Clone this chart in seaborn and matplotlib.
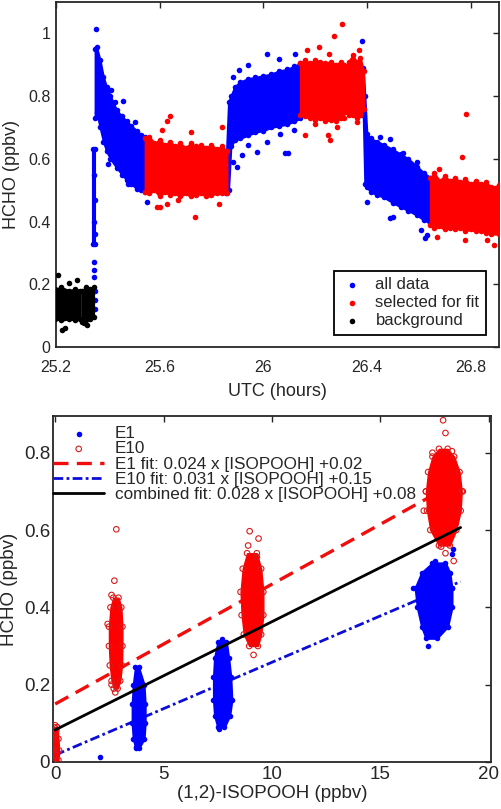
import numpy as np
import pandas as pd
import matplotlib
matplotlib.use("Agg")
import matplotlib.pyplot as plt
import seaborn as sns

# ---------------- top panel data ----------------
# dense cores: time knots with lower/upper envelope of the point cloud
black1_t = [25.196, 25.22, 25.25, 25.275, 25.293]
black1_lo = [0.09, 0.085, 0.09, 0.085, 0.09]
black1_hi = [0.185, 0.19, 0.18, 0.185, 0.18]
black2_t = [25.300, 25.315, 25.33, 25.345]
black2_lo = [0.08, 0.085, 0.09, 0.095]
black2_hi = [0.18, 0.19, 0.185, 0.19]

spike_t = [25.343, 25.352]
spike_lo = [0.33, 0.33]
spike_hi = [0.63, 0.63]

blue1_t = [25.351, 25.357, 25.37, 25.383, 25.395, 25.41, 25.434, 25.455, 25.473, 25.49, 25.512, 25.53, 25.544]
blue1_lo = [0.73, 0.75, 0.70, 0.655, 0.625, 0.60, 0.572, 0.55, 0.532, 0.52, 0.505, 0.50, 0.495]
blue1_hi = [0.95, 0.955, 0.915, 0.86, 0.83, 0.80, 0.755, 0.735, 0.72, 0.705, 0.69, 0.675, 0.67]

red1_t = [25.544, 25.56, 25.58, 25.60, 25.62, 25.64, 25.66, 25.68, 25.70, 25.72, 25.74, 25.76, 25.78, 25.80, 25.82, 25.84, 25.86]
red1_lo = [0.495, 0.49, 0.50, 0.48, 0.495, 0.485, 0.49, 0.48, 0.49, 0.48, 0.485, 0.49, 0.48, 0.485, 0.49, 0.49, 0.49]
red1_hi = [0.665, 0.67, 0.65, 0.66, 0.645, 0.655, 0.64, 0.65, 0.635, 0.65, 0.64, 0.645, 0.635, 0.645, 0.63, 0.64, 0.625]

blue2_t = [25.858, 25.866, 25.875, 25.89, 25.91, 25.94, 25.97, 26.0, 26.03, 26.06, 26.09, 26.12, 26.143]
blue2_lo = [0.49, 0.50, 0.64, 0.66, 0.665, 0.675, 0.685, 0.69, 0.70, 0.705, 0.71, 0.72, 0.73]
blue2_hi = [0.62, 0.78, 0.80, 0.83, 0.845, 0.855, 0.86, 0.865, 0.87, 0.88, 0.885, 0.895, 0.905]

red2_t = [26.143, 26.16, 26.18, 26.20, 26.22, 26.24, 26.26, 26.28, 26.30, 26.31]
red2_lo = [0.74, 0.735, 0.73, 0.725, 0.73, 0.72, 0.725, 0.72, 0.73, 0.73]
red2_hi = [0.905, 0.915, 0.905, 0.915, 0.91, 0.905, 0.91, 0.90, 0.91, 0.90]

red3_t = [26.317, 26.33, 26.345, 26.36, 26.375, 26.387]
red3_lo = [0.75, 0.74, 0.74, 0.73, 0.74, 0.76]
red3_hi = [0.89, 0.91, 0.93, 0.91, 0.92, 0.88]

blue3_t = [26.386, 26.392, 26.40, 26.414, 26.44, 26.465, 26.50, 26.53, 26.56, 26.594, 26.62, 26.645]
blue3_lo = [0.74, 0.52, 0.51, 0.495, 0.485, 0.478, 0.46, 0.447, 0.435, 0.42, 0.405, 0.395]
blue3_hi = [0.89, 0.80, 0.68, 0.665, 0.655, 0.645, 0.63, 0.615, 0.60, 0.575, 0.555, 0.54]

red4_t = [26.645, 26.66, 26.68, 26.70, 26.72, 26.74, 26.76, 26.78, 26.80, 26.82, 26.84, 26.86, 26.88, 26.91]
red4_lo = [0.39, 0.38, 0.385, 0.375, 0.38, 0.375, 0.38, 0.37, 0.375, 0.37, 0.37, 0.365, 0.36, 0.36]
red4_hi = [0.54, 0.555, 0.53, 0.545, 0.53, 0.54, 0.525, 0.535, 0.52, 0.53, 0.52, 0.525, 0.51, 0.515]

# isolated points
blue_pts_t = [25.345, 25.346, 25.347, 25.35, 25.35, 25.35, 25.356, 25.413, 25.427, 25.46, 25.505, 25.40,
              25.479, 25.55, 25.918, 25.976, 26.085, 26.094, 25.898, 25.885, 25.943, 26.014, 26.066,
              26.117, 26.014, 26.06, 26.124, 25.943, 25.905, 25.885, 26.381, 26.401, 26.49, 26.50,
              26.607, 26.626, 26.632, 26.49, 26.45, 26.594, 26.54, 25.347, 25.349, 25.346, 25.35]
blue_pts_v = [0.245, 0.224, 0.27, 0.12, 0.15, 0.18, 1.015, 0.818, 0.781, 0.784, 0.718, 0.585,
              0.521, 0.463, 0.611, 0.622, 0.619, 0.617, 0.574, 0.59, 0.643, 0.654, 0.68,
              0.691, 0.935, 0.919, 0.935, 0.898, 0.882, 0.86, 0.976, 0.463, 0.41, 0.415,
              0.373, 0.346, 0.357, 0.664, 0.67, 0.589, 0.617, 0.40, 0.47, 0.55, 0.36]
red_pts_t = [25.641, 25.63, 25.61, 25.59, 25.63, 25.735, 25.67, 25.84, 25.72, 25.83, 25.60, 26.304,
             26.272, 26.214, 26.169, 26.252, 26.162, 26.259, 26.25, 26.2, 26.285, 26.37, 26.36,
             26.781, 26.768, 26.671, 26.78, 26.864, 26.89, 26.68]
red_pts_v = [0.736, 0.72, 0.691, 0.447, 0.457, 0.413, 0.468, 0.70, 0.686, 0.455, 0.447, 1.029,
             0.993, 0.956, 0.946, 0.935, 0.675, 0.659, 0.675, 0.711, 0.70, 0.946, 0.718,
             0.742, 0.606, 0.351, 0.34, 0.34, 0.325, 0.568]
black_pts_t = [25.209, 25.235, 25.225, 25.282, 25.25, 25.31, 25.32]
black_pts_v = [0.229, 0.059, 0.055, 0.213, 0.205, 0.075, 0.07]

top_xticks = [25.2, 25.6, 26.0, 26.4, 26.8]
top_xticklabels = ["25.2", "25.6", "26", "26.4", "26.8"]
top_yticks = [0, 0.2, 0.4, 0.6, 0.8, 1.0]
top_yticklabels = ["0", "0.2", "0.4", "0.6", "0.8", "1"]

# ---------------- bottom panel data ----------------
# dense clusters: HCHO levels with left/right extent of the cloud
e10a_y = [0.19, 0.21, 0.25, 0.30, 0.35, 0.40, 0.425]
e10a_xl = [2.7, 2.6, 2.52, 2.48, 2.48, 2.55, 2.68]
e10a_xr = [2.88, 3.0, 3.08, 3.1, 3.1, 3.05, 2.92]
e1a_y = [0.035, 0.06, 0.10, 0.15, 0.20, 0.245]
e1a_xl = [3.72, 3.6, 3.55, 3.55, 3.6, 3.7]
e1a_xr = [3.85, 4.1, 4.15, 4.15, 4.1, 3.85]
e1b_y = [0.09, 0.12, 0.16, 0.22, 0.27, 0.31]
e1b_xl = [7.5, 7.35, 7.3, 7.3, 7.35, 7.5]
e1b_xr = [7.8, 8.05, 8.15, 8.1, 8.0, 7.9]
e10b_y = [0.30, 0.33, 0.38, 0.44, 0.50, 0.54]
e10b_xl = [8.95, 8.7, 8.6, 8.55, 8.65, 8.85]
e10b_xr = [9.35, 9.5, 9.6, 9.6, 9.5, 9.3]
e1c_y = [0.32, 0.35, 0.40, 0.45, 0.49, 0.515]
e1c_xl = [17.1, 16.9, 16.7, 16.6, 16.9, 17.4]
e1c_xr = [17.6, 18.1, 18.3, 18.3, 18.2, 18.0]
e10c_y = [0.56, 0.60, 0.65, 0.70, 0.75, 0.79, 0.81]
e10c_xl = [17.7, 17.3, 17.15, 17.1, 17.2, 17.4, 17.7]
e10c_xr = [18.2, 18.5, 18.7, 18.75, 18.65, 18.4, 18.1]
e10z_y = [0.005, 0.03, 0.06, 0.09]
e10z_xl = [-0.1, -0.1, -0.1, -0.05]
e10z_xr = [0.15, 0.18, 0.15, 0.1]

e1_pts_x = [2.08, 3.72, 7.54, 7.7, 17.2, 18.3, 18.35, 17.5, 0.0, 0.05, 0.1, 16.5, 18.3]
e1_pts_y = [0.013, 0.04, 0.086, 0.318, 0.299, 0.537, 0.55, 0.52, 0.06, 0.075, 0.02, 0.45, 0.45]
e10_pts_x = [2.82, 2.73, 2.77, 2.6, 2.6, 2.42, 8.97, 9.38, 9.15, 8.9, 9.3, 17.89, 18.0, 18.3,
             18.38, 18.0, 17.8, 17.4, 17.1, 18.8, 0.0, 0.05, 17.0]
e10_pts_y = [0.602, 0.469, 0.18, 0.2, 0.432, 0.357, 0.597, 0.578, 0.277, 0.56, 0.53, 0.884, 0.851, 0.804,
             0.52, 0.54, 0.557, 0.80, 0.70, 0.70, 0.095, 0.08, 0.65]

fit_x = [0.0, 18.7]
fit_e1_slope, fit_e1_icpt = 0.031, 0.15      # red dashed line
fit_e10_slope, fit_e10_icpt = 0.024, 0.018   # blue dash-dot line
fit_all_slope, fit_all_icpt = 0.028, 0.083   # black line
legend_labels = ["E1", "E10",
                 "E1 fit: 0.024 x [ISOPOOH] +0.02",
                 "E10 fit: 0.031 x [ISOPOOH] +0.15",
                 "combined fit: 0.028 x [ISOPOOH] +0.08"]

bot_xticks = [0, 5, 10, 15, 20]
bot_yticks = [0, 0.2, 0.4, 0.6, 0.8]
bot_yticklabels = ["0", "0.2", "0.4", "0.6", "0.8"]

# ---------------- drawing ----------------
sns.set_theme(style="white")
plt.rcParams['font.family'] = ['Liberation Sans', 'DejaVu Sans']

BLUE = (0, 0, 1)
RED = (1, 0, 0)
BLACK = (0, 0, 0)
TXT = (0.15, 0.15, 0.15)

fig = plt.figure(figsize=(5.01, 8.09), dpi=100)
ax1 = fig.add_axes([56 / 501, 462 / 809, 443 / 501, 345 / 809])
ax2 = fig.add_axes([53 / 501, 47 / 809, 438 / 501, 346 / 809])

DOT = 16


def band(ax, t, lo, hi, color, z):
    ax.fill_between(t, lo, hi, color=color, edgecolor=color, linewidth=1.5, zorder=z)
    sns.scatterplot(x=list(t) + list(t), y=list(lo) + list(hi), ax=ax, color=color,
                    s=DOT, linewidth=0, zorder=z, legend=False)


# blue first, red over, then black
for t, lo, hi in [(spike_t, spike_lo, spike_hi), (blue1_t, blue1_lo, blue1_hi),
                  (blue2_t, blue2_lo, blue2_hi), (blue3_t, blue3_lo, blue3_hi)]:
    band(ax1, t, lo, hi, BLUE, 2)
sns.scatterplot(x=blue_pts_t, y=blue_pts_v, ax=ax1, color=BLUE, s=DOT, linewidth=0,
                zorder=2, label="all data")
for t, lo, hi in [(red1_t, red1_lo, red1_hi), (red2_t, red2_lo, red2_hi),
                  (red3_t, red3_lo, red3_hi), (red4_t, red4_lo, red4_hi)]:
    band(ax1, t, lo, hi, RED, 3)
sns.scatterplot(x=red_pts_t, y=red_pts_v, ax=ax1, color=RED, s=DOT, linewidth=0,
                zorder=3, label="selected for fit")
for t, lo, hi in [(black1_t, black1_lo, black1_hi), (black2_t, black2_lo, black2_hi)]:
    band(ax1, t, lo, hi, BLACK, 4)
sns.scatterplot(x=black_pts_t, y=black_pts_v, ax=ax1, color=BLACK, s=DOT, linewidth=0,
                zorder=4, label="background")

ax1.set_xlim(25.2, 26.91)
ax1.set_ylim(0, 1.1)
ax1.set_xticks(top_xticks)
ax1.set_xticklabels(top_xticklabels)
ax1.set_yticks(top_yticks)
ax1.set_yticklabels(top_yticklabels)
ax1.set_xlabel("UTC (hours)", fontsize=13, color=TXT, labelpad=6)
ax1.set_ylabel("HCHO (ppbv)", fontsize=13, color=TXT, labelpad=6)
leg1 = ax1.legend(loc="lower right", bbox_to_anchor=(0.971, 0.035), fontsize=12,
                  frameon=True, fancybox=False, edgecolor=BLACK, framealpha=1,
                  borderpad=0.4, labelspacing=0.18, handletextpad=0.7,
                  handlelength=1.4, borderaxespad=0, markerscale=1.0)
leg1.get_frame().set_linewidth(1.3)

# bottom panel
for y, xl, xr in [(e1a_y, e1a_xl, e1a_xr), (e1b_y, e1b_xl, e1b_xr), (e1c_y, e1c_xl, e1c_xr)]:
    ax2.fill_betweenx(y, xl, xr, color=BLUE, edgecolor=BLUE, linewidth=1.5, zorder=2)
    sns.scatterplot(x=list(xl) + list(xr), y=list(y) + list(y), ax=ax2, color=BLUE,
                    s=DOT, linewidth=0, zorder=2, legend=False)
sns.scatterplot(x=e1_pts_x, y=e1_pts_y, ax=ax2, color=BLUE, s=DOT, linewidth=0, zorder=2,
                label=legend_labels[0])
for y, xl, xr in [(e10a_y, e10a_xl, e10a_xr), (e10b_y, e10b_xl, e10b_xr),
                  (e10c_y, e10c_xl, e10c_xr), (e10z_y, e10z_xl, e10z_xr)]:
    ax2.fill_betweenx(y, xl, xr, color=RED, edgecolor=RED, linewidth=1.0, zorder=3)
    sns.scatterplot(x=list(xl) + list(xr), y=list(y) + list(y), ax=ax2, marker="o",
                    s=DOT, facecolor="none", edgecolor=(0.85, 0.1, 0.1), linewidth=0.8,
                    zorder=3, legend=False)
sns.scatterplot(x=e10_pts_x, y=e10_pts_y, ax=ax2, marker="o", s=DOT, facecolor="none",
                edgecolor=(0.85, 0.1, 0.1), linewidth=0.8, zorder=3, label=legend_labels[1])

fx = np.array(fit_x)
sns.lineplot(x=fx, y=fit_e1_icpt + fit_e1_slope * fx, ax=ax2, color=(0.95, 0.05, 0.05),
             linewidth=2.4, zorder=1.5, label=legend_labels[2]).lines[-1].set_dashes((4.5, 2.5))
sns.lineplot(x=fx, y=fit_e10_icpt + fit_e10_slope * fx, ax=ax2, color=(0.05, 0.05, 0.85),
             linewidth=2.0, zorder=1.5, label=legend_labels[3]).lines[-1].set_dashes((3.5, 1.2, 1.0, 1.2))
sns.lineplot(x=fx, y=fit_all_icpt + fit_all_slope * fx, ax=ax2, color=BLACK,
             linewidth=2.0, zorder=5, label=legend_labels[4])

ax2.set_xlim(-0.1, 20.1)
ax2.set_ylim(0, 0.895)
ax2.set_xticks(bot_xticks)
ax2.set_xticklabels([str(v) for v in bot_xticks])
ax2.set_yticks(bot_yticks)
ax2.set_yticklabels(bot_yticklabels)
ax2.set_xlabel("(1,2)-ISOPOOH (ppbv)", fontsize=13.5, color=TXT, labelpad=1)
ax2.set_ylabel("HCHO (ppbv)", fontsize=13.5, color=TXT, labelpad=4)
handles, labels = ax2.get_legend_handles_labels()
order = [labels.index(l) for l in legend_labels]
leg2 = ax2.legend([handles[i] for i in order], [labels[i] for i in order],
                  loc="upper left", bbox_to_anchor=(0.0, 0.971), fontsize=12.35,
                  frameon=False, borderpad=0, labelspacing=0.02, handletextpad=0.6,
                  handlelength=3.0, borderaxespad=0)
leg2.set_zorder(10)

for ax, fs in [(ax1, 11.5), (ax2, 13.5)]:
    ax.tick_params(direction="in", top=True, right=True, length=4, width=1.0,
                   labelsize=fs, colors=TXT, labelcolor=TXT, pad=4)
    for sp in ax.spines.values():
        sp.set_visible(True)
        sp.set_color(TXT)
        sp.set_linewidth(1.3)
    ax.grid(False)
ax1.tick_params(axis="x", pad=9)
ax2.tick_params(axis="x", pad=3)
ax2.tick_params(axis="y", pad=2)

fig.savefig("out.png", dpi=100)
